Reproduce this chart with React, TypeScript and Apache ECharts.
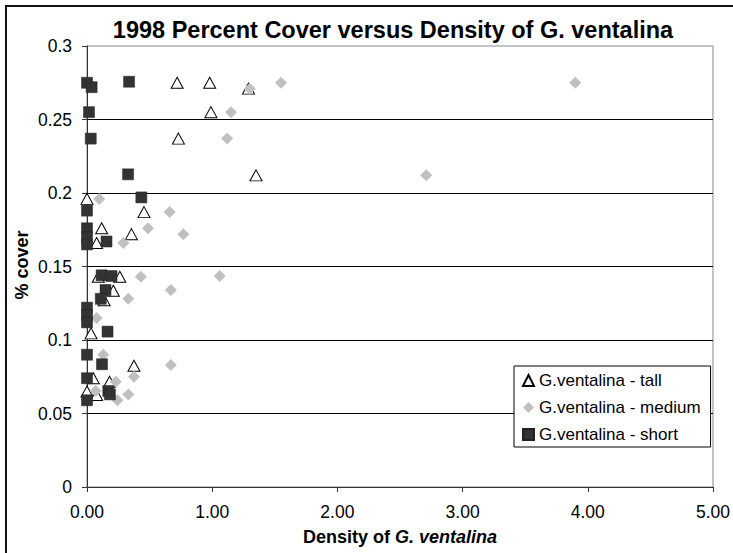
import React, { useEffect, useRef } from "react";
import * as echarts from "echarts";

const titleText = "1998 Percent Cover versus Density of G. ventalina";
const xTicks = [0, 1, 2, 3, 4, 5];
const yTicks = [0, 0.05, 0.1, 0.15, 0.2, 0.25, 0.3];

const tallX = [0.72, 0.98, 0.99, 1.29, 0.73, 1.35, 0.0, 0.455, 0.117, 0.355, 0.077, 0.09, 0.262, 0.21, 0.137, 0.032, 0.375, 0.05, 0.18, 0.0, 0.077];
const tallY = [0.275, 0.275, 0.255, 0.271, 0.237, 0.212, 0.196, 0.187, 0.176, 0.172, 0.166, 0.143, 0.143, 0.1335, 0.127, 0.1045, 0.0825, 0.074, 0.0716, 0.065, 0.0626];

const medX = [3.9, 1.55, 1.3, 1.15, 1.12, 2.71, 0.098, 0.66, 0.487, 0.77, 0.29, 0.43, 1.06, 0.67, 0.33, 0.077, 0.13, 0.67, 0.375, 0.23, 0.07, 0.243, 0.33];
const medY = [0.275, 0.275, 0.271, 0.255, 0.237, 0.212, 0.196, 0.187, 0.176, 0.172, 0.166, 0.143, 0.1435, 0.134, 0.128, 0.115, 0.09, 0.083, 0.075, 0.0716, 0.0653, 0.059, 0.063];

const shortX = [0.0, 0.037, 0.016, 0.03, 0.336, 0.328, 0.434, 0.0, 0.0, 0.0, 0.0, 0.156, 0.117, 0.196, 0.148, 0.11, 0.0, 0.0, 0.0, 0.164, 0.0, 0.12, 0.0, 0.17, 0.183, 0.0];
const shortY = [0.275, 0.272, 0.255, 0.237, 0.2757, 0.2127, 0.197, 0.188, 0.176, 0.17, 0.165, 0.167, 0.144, 0.1435, 0.134, 0.128, 0.122, 0.117, 0.112, 0.1057, 0.09, 0.0835, 0.074, 0.0653, 0.063, 0.059];

const zip = (xs: number[], ys: number[]) => xs.map((x, i) => [x, ys[i]]);
const FONT = '"Liberation Sans", Arial, sans-serif';

export default function App() {
  const ref = useRef<HTMLDivElement>(null);
  useEffect(() => {
    if (!ref.current) return;
    const chart = echarts.init(ref.current, null, { renderer: "svg" });
    chart.setOption({
      animation: false,
      backgroundColor: "#fff",
      textStyle: { fontFamily: FONT },
      grid: {
        left: 87,
        right: 16,
        top: 46,
        bottom: 66,
        show: true,
        borderColor: "#888",
        borderWidth: 1,
        backgroundColor: "#fff",
      },
      xAxis: {
        type: "value",
        min: xTicks[0],
        max: xTicks[xTicks.length - 1],
        interval: 1,
        axisLine: { show: true, onZero: false, lineStyle: { color: "#333", width: 1 } },
        axisTick: { show: true, length: 5, lineStyle: { color: "#333" } },
        splitLine: { show: false },
        axisLabel: {
          color: "#000",
          fontSize: 17.5,
          fontFamily: FONT,
          margin: 16,
          formatter: (v: number) => v.toFixed(2),
        },
      },
      yAxis: {
        type: "value",
        min: yTicks[0],
        max: yTicks[yTicks.length - 1],
        interval: 0.05,
        axisLine: { show: true, onZero: false, lineStyle: { color: "#333", width: 1 } },
        axisTick: { show: true, length: 5, lineStyle: { color: "#333" } },
        splitLine: {
          show: true,
          showMinLine: false,
          showMaxLine: false,
          lineStyle: { color: "#000", width: 1 },
        },
        axisLabel: {
          color: "#000",
          fontSize: 17.5,
          fontFamily: FONT,
          margin: 15,
          formatter: (v: number) => String(parseFloat(v.toFixed(2))),
        },
      },
      legend: {
        show: true,
        orient: "vertical",
        left: 514,
        top: 366,
        width: 193,
        backgroundColor: "#fff",
        borderColor: "#000",
        borderWidth: 1,
        borderRadius: 0,
        padding: [6, 10, 4, 8],
        itemGap: 10,
        itemWidth: 11,
        itemHeight: 11,
        textStyle: { fontSize: 17, fontFamily: FONT, color: "#000", lineHeight: 17 },
        data: ["G.ventalina - tall", "G.ventalina - medium", "G.ventalina - short"],
      },
      series: [
        {
          name: "G.ventalina - tall",
          type: "scatter",
          symbol: "triangle",
          symbolSize: [12, 11],
          itemStyle: { color: "#fff", borderColor: "#000", borderWidth: 1, opacity: 1 },
          data: zip(tallX, tallY),
          z: 2,
        },
        {
          name: "G.ventalina - medium",
          type: "scatter",
          symbol: "diamond",
          symbolSize: 12,
          itemStyle: { color: "#c0c0c0", opacity: 1 },
          data: zip(medX, medY),
          z: 3,
        },
        {
          name: "G.ventalina - short",
          type: "scatter",
          symbol: "rect",
          symbolSize: 11,
          itemStyle: { color: "#333", borderColor: "#222", borderWidth: 0.5, opacity: 1 },
          data: zip(shortX, shortY),
          z: 4,
        },
      ],
      graphic: [
        {
          type: "rect",
          shape: { x: 6, y: 6, width: 760, height: 620 },
          style: { fill: "none", stroke: "#111", lineWidth: 2 },
          silent: true,
          z: 100,
        },
        {
          type: "text",
          x: 393,
          y: 30,
          style: {
            text: titleText,
            font: `bold 23.5px ${FONT}`,
            fill: "#000",
            align: "center",
            verticalAlign: "middle",
          },
        },
        {
          type: "text",
          x: 22,
          y: 265,
          rotation: Math.PI / 2,
          style: {
            text: "% cover",
            font: `bold 18px ${FONT}`,
            fill: "#000",
            align: "center",
            verticalAlign: "middle",
          },
        },
        {
          type: "text",
          x: 400,
          y: 537,
          style: {
            text: "{a|Density of }{b|G. ventalina}",
            align: "center",
            verticalAlign: "middle",
            rich: {
              a: { font: `bold 18px ${FONT}`, fill: "#000" },
              b: { font: `italic bold 18px ${FONT}`, fill: "#000" },
            },
          },
        },
      ],
    });
    return () => chart.dispose();
  }, []);
  return (
    <div
      ref={ref}
      style={{ position: "fixed", left: 0, top: 0, width: 733, height: 553 }}
    />
  );
}
